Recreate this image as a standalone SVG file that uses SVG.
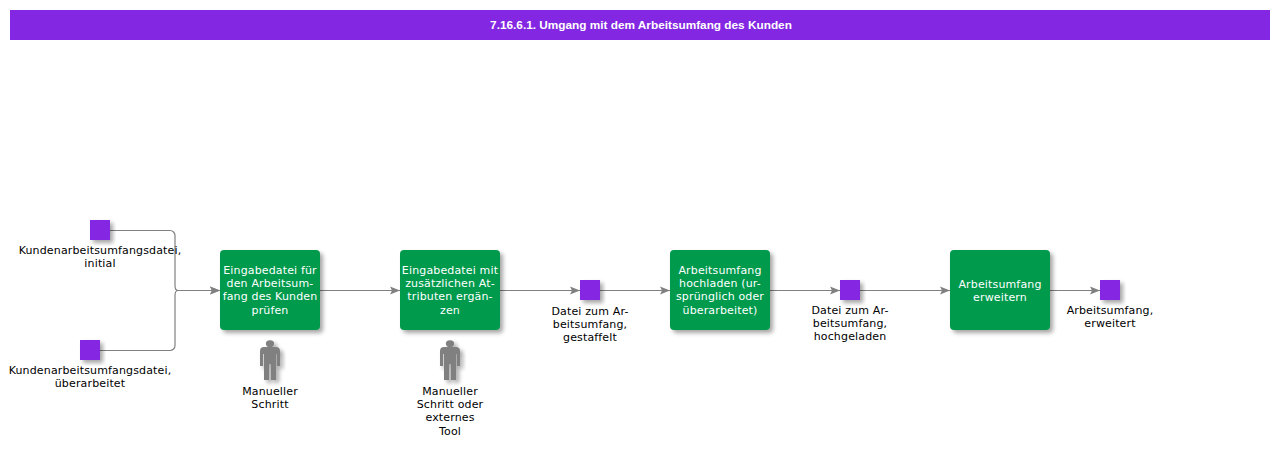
<svg xmlns="http://www.w3.org/2000/svg" width="1280" height="449" viewBox="0 0 1280 449">
<style>
text{font-family:"DejaVu Sans",Verdana,sans-serif;font-size:11px;letter-spacing:.15px;text-anchor:middle;fill:#000}
.w{fill:#fff}
.t{font-family:"Liberation Sans",Arial,sans-serif;font-size:11.8px;letter-spacing:0;font-weight:bold;fill:#fff}
.task{fill:#009a4e;filter:url(#s)}
.data{fill:#8427e2;filter:url(#s)}
.c{fill:none;stroke:#808080;stroke-width:1.2}
.p{fill:#808080;filter:url(#s)}
</style>
<defs>
<filter id="s" x="-20%" y="-20%" width="150%" height="150%"><feDropShadow dx="3" dy="3" stdDeviation="2" flood-color="#000" flood-opacity=".35"/></filter>
<marker id="a" markerUnits="userSpaceOnUse" markerWidth="11" markerHeight="10" refX="10" refY="5" orient="auto"><path d="M0 1 L10 5 L0 9 L2 5Z" fill="#808080"/></marker>
<path id="person" d="M-3.500-18.500 a4.500 3.500 0 0 1 7 0 a4.500 4 0 0 1-1.500 5.500 H6 q4 0 4 4 V6 H7 V-6 H6 V20 H1 V4 H-1 V20 H-6 V-6 H-7 V6 H-10 V-9 q0-4 4-4 H-2 a4.500 4 0 0 1-1.500-5.500Z"/>
</defs>
<rect id="title-bar" x="10" y="10" width="1260" height="30" fill="#8427e2"/>
<text class="t" x="641" y="29">7.16.6.1. Umgang mit dem Arbeitsumfang des Kunden</text>
<g id="connectors">
<path class="c" marker-end="url(#a)" d="M110 230.500H170a5 5 0 0 1 5 5V285.500q0 5 3 5H220"/>
<path class="c" marker-end="url(#a)" d="M100 350.500H170a5 5 0 0 0 5-5V295.500q0-5 3-5H220"/>
<path class="c" marker-end="url(#a)" d="M320 290.500H400"/>
<path class="c" marker-end="url(#a)" d="M500 290.500H580"/>
<path class="c" marker-end="url(#a)" d="M600 290.500H670"/>
<path class="c" marker-end="url(#a)" d="M770 290.500H840"/>
<path class="c" marker-end="url(#a)" d="M860 290.500H950"/>
<path class="c" marker-end="url(#a)" d="M1050 290.500H1100"/>
</g>
<g id="d1"><rect class="data" x="90" y="220" width="20" height="20"/><text x="100" y="254">Kundenarbeitsumfangsdatei,</text><text x="100" y="267">initial</text></g>
<g id="d2"><rect class="data" x="80" y="340" width="20" height="20"/><text x="90" y="374">Kundenarbeitsumfangsdatei,</text><text x="90" y="387">überarbeitet</text></g>
<g id="t1"><rect class="task" x="220" y="250" width="100" height="80" rx="4"/><text class="w" x="270" y="274">Eingabedatei für</text><text class="w" x="270" y="287">den Arbeitsum-</text><text class="w" x="270" y="300">fang des Kunden</text><text class="w" x="270" y="314">prüfen</text></g>
<g id="p1"><use href="#person" class="p" x="270" y="360"/><text x="270" y="395">Manueller</text><text x="270" y="408">Schritt</text></g>
<g id="t2"><rect class="task" x="400" y="250" width="100" height="80" rx="4"/><text class="w" x="450" y="274">Eingabedatei mit</text><text class="w" x="450" y="287">zusätzlichen At-</text><text class="w" x="450" y="300">tributen ergän-</text><text class="w" x="450" y="314">zen</text></g>
<g id="p2"><use href="#person" class="p" x="450" y="360"/><text x="450" y="395">Manueller</text><text x="450" y="408">Schritt oder</text><text x="450" y="421">externes</text><text x="450" y="435">Tool</text></g>
<g id="d3"><rect class="data" x="580" y="280" width="20" height="20"/><text x="590" y="315">Datei zum Ar-</text><text x="590" y="328">beitsumfang,</text><text x="590" y="341">gestaffelt</text></g>
<g id="t3"><rect class="task" x="670" y="250" width="100" height="80" rx="4"/><text class="w" x="720" y="274">Arbeitsumfang</text><text class="w" x="720" y="287">hochladen (ur-</text><text class="w" x="720" y="300">sprünglich oder</text><text class="w" x="720" y="314">überarbeitet)</text></g>
<g id="d4"><rect class="data" x="840" y="280" width="20" height="20"/><text x="850" y="314">Datei zum Ar-</text><text x="850" y="327">beitsumfang,</text><text x="850" y="340">hochgeladen</text></g>
<g id="t4"><rect class="task" x="950" y="250" width="100" height="80" rx="4"/><text class="w" x="1000" y="288">Arbeitsumfang</text><text class="w" x="1000" y="301">erweitern</text></g>
<g id="d5"><rect class="data" x="1100" y="280" width="20" height="20"/><text x="1110" y="314">Arbeitsumfang,</text><text x="1110" y="327">erweitert</text></g>
</svg>
